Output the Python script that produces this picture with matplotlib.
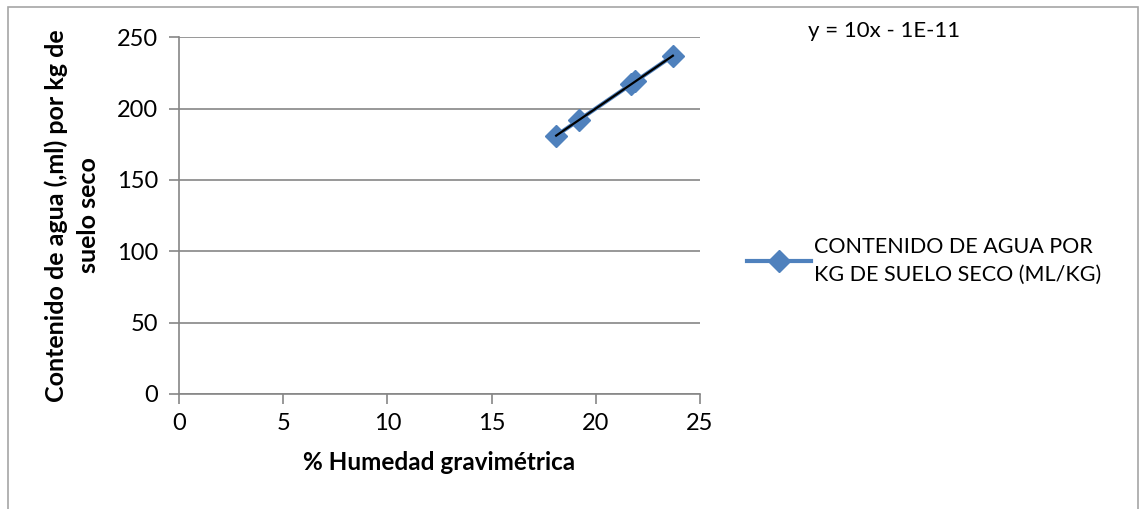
import numpy as np
import matplotlib.pyplot as plt
from matplotlib.patches import Rectangle

plt.rcParams['font.family'] = ['Lato', 'DejaVu Sans']

# humedad gravimetrica (%) vs contenido de agua (ml/kg)
humedad = [18.1, 19.2, 21.7, 21.9, 23.7]
contenido = [181, 192, 217, 219, 237]
serie_label = 'CONTENIDO DE AGUA POR\nKG DE SUELO SECO (ML/KG)'
x_ticks = [0, 5, 10, 15, 20, 25]
y_ticks = [0, 50, 100, 150, 200, 250]

blue = '#4F81BD'
grey = '#868686'

fig = plt.figure(figsize=(11.4, 5.09), dpi=100)
ax = fig.add_axes([0.157, 0.226, 0.457, 0.701])

# chart area border
fig.patches.append(Rectangle((8 / 1140, -0.05), 1130 / 1140, 1 - 7 / 509 + 0.05,
                             transform=fig.transFigure, fill=False,
                             edgecolor='#a6a6a6', linewidth=1.2))

ax.plot(humedad, contenido, color=blue, linewidth=3.0, marker='D',
        markersize=11, label=serie_label, zorder=3)

# linear trendline
m, b = np.polyfit(humedad, contenido, 1)
xt = np.array([min(humedad), max(humedad)])
ax.plot(xt, m * xt + b, color='black', linewidth=1.6, zorder=4)

ax.set_xlim(0, 25)
ax.set_ylim(0, 250)
ax.set_xticks(x_ticks)
ax.set_yticks(y_ticks)
ax.yaxis.grid(True, color=grey, linewidth=1.2)
ax.set_axisbelow(True)
for s in ['top', 'right']:
    ax.spines[s].set_visible(False)
for s in ['left', 'bottom']:
    ax.spines[s].set_color(grey)
    ax.spines[s].set_linewidth(1.2)
ax.tick_params(axis='both', colors=grey, length=7, width=1.2,
               labelsize=17, labelcolor='black')
ax.tick_params(axis='x', pad=7)
ax.tick_params(axis='y', pad=8)

ax.set_xlabel('% Humedad gravimétrica', fontsize=17.5, fontweight='bold',
              labelpad=12)
ax.set_ylabel('Contenido de agua (,ml) por kg de\nsuelo seco', fontsize=18,
              fontweight='bold', labelpad=12, linespacing=1.5)

fig.text(808 / 1140, 1 - 31 / 509, 'y = 10x - 1E-11', fontsize=16,
         va='center', ha='left')

leg = ax.legend(loc='center left', bbox_to_anchor=(738 / 1140, 1 - 261 / 509),
                bbox_transform=fig.transFigure, frameon=False, fontsize=15.5,
                handlelength=3.0, handletextpad=0.12, borderaxespad=0)
leg.get_texts()[0].set_linespacing(1.45)

fig.savefig('out.png', dpi=100)
